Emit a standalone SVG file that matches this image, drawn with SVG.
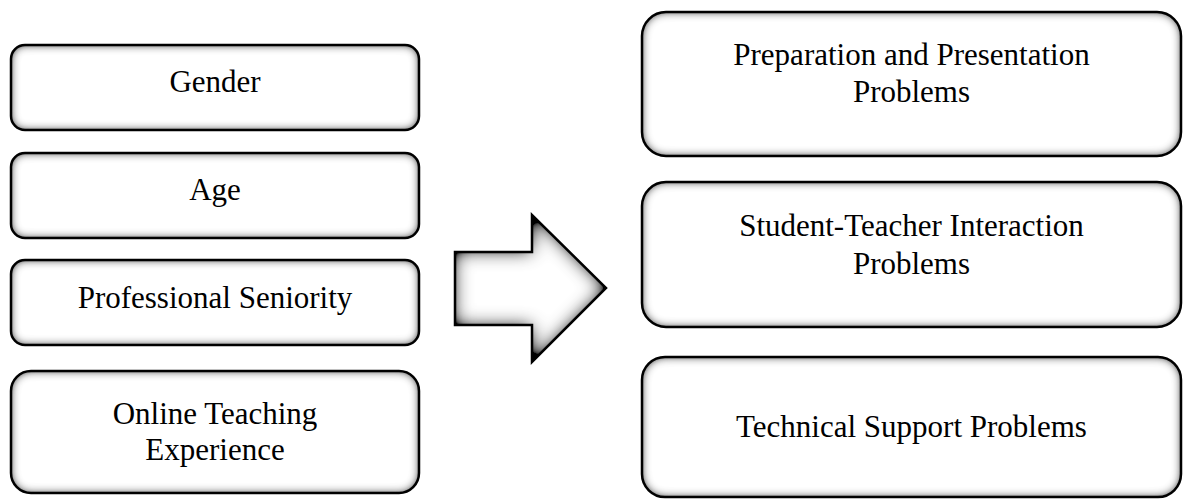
<svg xmlns="http://www.w3.org/2000/svg" width="1183" height="500" viewBox="0 0 1183 500">
  <style>
    .box { fill: #ffffff; filter: url(#bevel); }
    .edge { fill: none; stroke: #000000; stroke-width: 2.5; }
    .lbl { font-family: "Liberation Serif", "Times New Roman", serif; font-size: 31px; fill: #000000; text-anchor: middle; }
  </style>
  <defs>
    <filter id="bevel" x="-10%" y="-20%" width="120%" height="140%">
      <feFlood flood-color="#000000" flood-opacity="1" result="f"/>
      <feComposite in="f" in2="SourceAlpha" operator="out" result="outside"/>
      <feGaussianBlur in="outside" stdDeviation="5" result="blur"/>
      <feComponentTransfer in="blur" result="boost">
        <feFuncA type="linear" slope="1.5" intercept="0"/>
      </feComponentTransfer>
      <feComposite in="boost" in2="SourceAlpha" operator="in" result="inner"/>
      <feMerge><feMergeNode in="SourceGraphic"/><feMergeNode in="inner"/></feMerge>
    </filter>
    <filter id="bevelArrow" x="-20%" y="-20%" width="140%" height="140%">
      <feFlood flood-color="#000000" flood-opacity="1" result="f"/>
      <feComposite in="f" in2="SourceAlpha" operator="out" result="outside"/>
      <feGaussianBlur in="outside" stdDeviation="9" result="blur"/>
      <feComponentTransfer in="blur" result="boost">
        <feFuncA type="linear" slope="1.5" intercept="0"/>
      </feComponentTransfer>
      <feComposite in="boost" in2="SourceAlpha" operator="in" result="inner"/>
      <feMerge><feMergeNode in="SourceGraphic"/><feMergeNode in="inner"/></feMerge>
    </filter>
  </defs>

  <g id="gender">
    <rect class="box" x="11" y="45" width="408" height="85" rx="14"/>
    <rect class="edge" x="11" y="45" width="408" height="85" rx="14"/>
    <text class="lbl" x="215" y="92">Gender</text>
  </g>
  <g id="age">
    <rect class="box" x="11" y="153" width="408" height="85" rx="14"/>
    <rect class="edge" x="11" y="153" width="408" height="85" rx="14"/>
    <text class="lbl" x="215" y="200">Age</text>
  </g>
  <g id="seniority">
    <rect class="box" x="11" y="260" width="408" height="85" rx="14"/>
    <rect class="edge" x="11" y="260" width="408" height="85" rx="14"/>
    <text class="lbl" x="215" y="308">Professional Seniority</text>
  </g>
  <g id="experience">
    <rect class="box" x="11" y="371" width="408" height="122" rx="20"/>
    <rect class="edge" x="11" y="371" width="408" height="122" rx="20"/>
    <text class="lbl" x="215" y="424">Online Teaching</text>
    <text class="lbl" x="215" y="460">Experience</text>
  </g>

  <g id="connectors">
    <path d="M455,252 L532,252 L532,215 L606,288 L532,362 L532,325 L455,325 Z" fill="#ffffff" filter="url(#bevelArrow)"/>
    <path d="M455,252 L532,252 L532,215 L606,288 L532,362 L532,325 L455,325 Z" fill="none" stroke="#000000" stroke-width="2.5" stroke-linejoin="miter"/>
  </g>

  <g id="preparation">
    <rect class="box" x="642" y="12" width="539" height="144" rx="24"/>
    <rect class="edge" x="642" y="12" width="539" height="144" rx="24"/>
    <text class="lbl" x="911.5" y="65">Preparation and Presentation</text>
    <text class="lbl" x="911.5" y="102">Problems</text>
  </g>
  <g id="interaction">
    <rect class="box" x="642" y="182" width="539" height="145" rx="24"/>
    <rect class="edge" x="642" y="182" width="539" height="145" rx="24"/>
    <text class="lbl" x="911.5" y="236">Student-Teacher Interaction</text>
    <text class="lbl" x="911.5" y="274">Problems</text>
  </g>
  <g id="technical">
    <rect class="box" x="642" y="357" width="539" height="140" rx="23"/>
    <rect class="edge" x="642" y="357" width="539" height="140" rx="23"/>
    <text class="lbl" x="911.5" y="437">Technical Support Problems</text>
  </g>
</svg>
